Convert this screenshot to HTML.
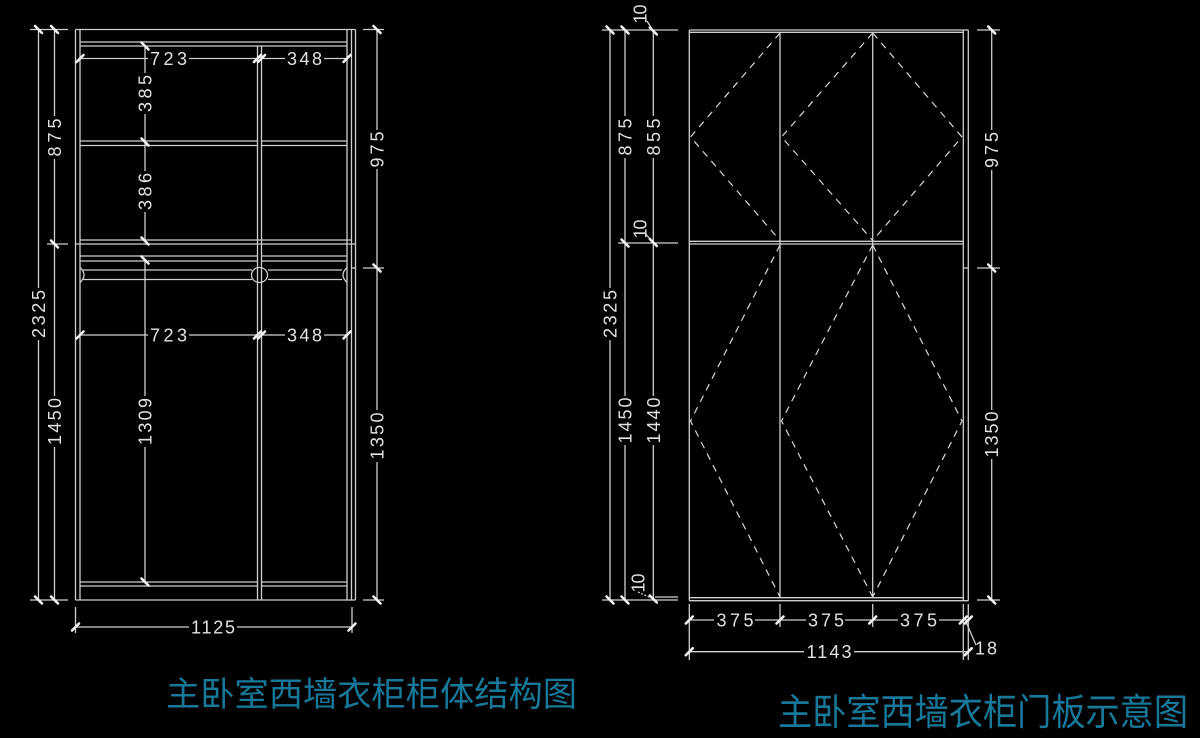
<!DOCTYPE html>
<html><head><meta charset="utf-8"><style>
html,body{margin:0;padding:0;background:#000;}
svg{display:block;}
.n{font-family:"Liberation Sans",sans-serif;font-size:18px;fill:#e2e2e2;}
.t{font-family:"Liberation Sans","Noto Sans CJK SC",sans-serif;fill:#17789a;}
</style></head><body>
<svg width="1200" height="738" viewBox="0 0 1200 738" xmlns="http://www.w3.org/2000/svg">
<rect width="1200" height="738" fill="#000"/>
<defs>
<path id="th" d="M-3.5,3.5 L3.5,-3.5" stroke="#f0f0f0" stroke-width="2.6" stroke-linecap="round"/>
<path id="tv" d="M-3.5,-3.5 L3.5,3.5" stroke="#f0f0f0" stroke-width="2.6" stroke-linecap="round"/>
</defs>

<!-- ================= LEFT CABINET ================= -->
<g stroke="#cfcfcf" stroke-width="1.3" fill="none">
<line x1="75.5" y1="29.5" x2="75.5" y2="600"/>
<line x1="80" y1="29.5" x2="80" y2="600"/>
<line x1="347" y1="29.5" x2="347" y2="600"/>
<line x1="351.5" y1="29.5" x2="351.5" y2="600"/>
<line x1="355.5" y1="29.5" x2="355.5" y2="600"/>
<line x1="75.5" y1="29.5" x2="355.5" y2="29.5"/>
<line x1="75.5" y1="600" x2="355.5" y2="600"/>
<line x1="80" y1="42" x2="347" y2="42"/>
<line x1="80" y1="46" x2="347" y2="46"/>
<line x1="257.5" y1="46" x2="257.5" y2="600"/>
<line x1="261.5" y1="46" x2="261.5" y2="600"/>
<!-- shelf -->
<line x1="80" y1="141" x2="257.5" y2="141"/>
<line x1="80" y1="145.5" x2="257.5" y2="145.5"/>
<line x1="261.5" y1="141" x2="347" y2="141"/>
<line x1="261.5" y1="145.5" x2="347" y2="145.5"/>
<!-- middle rail -->
<line x1="80" y1="240" x2="351.5" y2="240"/>
<line x1="75.5" y1="244" x2="355.5" y2="244"/>
<line x1="80" y1="256" x2="257.5" y2="256"/>
<line x1="80" y1="261" x2="257.5" y2="261"/>
<line x1="261.5" y1="256" x2="347" y2="256"/>
<line x1="261.5" y1="261" x2="347" y2="261"/>
<!-- rod -->
<line x1="83" y1="270" x2="252" y2="270"/>
<line x1="83" y1="279.5" x2="252" y2="279.5"/>
<line x1="268" y1="270" x2="342" y2="270"/>
<line x1="268" y1="279.5" x2="342" y2="279.5"/>
<path d="M80,267.5 Q88,275 80,282.5"/>
<path d="M347,267.5 Q339,275 347,282.5"/>
<ellipse cx="259.5" cy="275" rx="8" ry="7.5"/>
<line x1="351.5" y1="268" x2="356" y2="268"/>
<!-- bottom shelf -->
<line x1="80" y1="582" x2="257.5" y2="582"/>
<line x1="80" y1="586" x2="257.5" y2="586"/>
<line x1="261.5" y1="582" x2="347" y2="582"/>
<line x1="261.5" y1="586" x2="347" y2="586"/>

<!-- dims left -->
<line x1="30" y1="29.5" x2="68" y2="29.5"/>
<line x1="30" y1="600" x2="68" y2="600"/>
<line x1="47" y1="244" x2="68" y2="244"/>
<line x1="38.5" y1="29.5" x2="38.5" y2="288"/>
<line x1="38.5" y1="340" x2="38.5" y2="600"/>
<line x1="54.5" y1="29.5" x2="54.5" y2="116"/>
<line x1="54.5" y1="159" x2="54.5" y2="396"/>
<line x1="54.5" y1="447" x2="54.5" y2="600"/>
<!-- inner vertical dim -->
<line x1="145" y1="46" x2="145" y2="73"/>
<line x1="145" y1="114" x2="145" y2="171"/>
<line x1="145" y1="212" x2="145" y2="241"/>
<line x1="145" y1="261" x2="145" y2="396"/>
<line x1="145" y1="447" x2="145" y2="582"/>
<!-- right dim -->
<line x1="363" y1="29.5" x2="384" y2="29.5"/>
<line x1="363" y1="268" x2="384" y2="268"/>
<line x1="363" y1="600" x2="384" y2="600"/>
<line x1="377" y1="29.5" x2="377" y2="130"/>
<line x1="377" y1="169" x2="377" y2="410"/>
<line x1="377" y1="462" x2="377" y2="600"/>
<!-- horizontal dims -->
<line x1="80" y1="58.5" x2="148" y2="58.5"/>
<line x1="189" y1="58.5" x2="257.5" y2="58.5"/>
<line x1="261.5" y1="58.5" x2="285" y2="58.5"/>
<line x1="324" y1="58.5" x2="347" y2="58.5"/>
<line x1="80" y1="335" x2="148" y2="335"/>
<line x1="189" y1="335" x2="257.5" y2="335"/>
<line x1="261.5" y1="335" x2="285" y2="335"/>
<line x1="324" y1="335" x2="347" y2="335"/>
<!-- 1125 -->
<line x1="75.5" y1="607" x2="75.5" y2="633"/>
<line x1="352" y1="607" x2="352" y2="633"/>
<line x1="75.5" y1="627" x2="189" y2="627"/>
<line x1="237" y1="627" x2="352" y2="627"/>
</g>

<!-- ticks left -->
<use href="#tv" x="38.5" y="29.5"/><use href="#tv" x="38.5" y="600"/>
<use href="#tv" x="54.5" y="29.5"/><use href="#tv" x="54.5" y="244"/><use href="#tv" x="54.5" y="600"/>
<use href="#tv" x="145" y="46"/><use href="#tv" x="145" y="142"/><use href="#tv" x="145" y="241"/><use href="#tv" x="145" y="260"/><use href="#tv" x="145" y="582"/>
<use href="#tv" x="377" y="29.5"/><use href="#tv" x="377" y="268"/><use href="#tv" x="377" y="600"/>
<use href="#th" x="80" y="58.5"/><use href="#th" x="257.5" y="58.5"/><use href="#th" x="261.5" y="58.5"/><use href="#th" x="347" y="58.5"/>
<use href="#th" x="80" y="335"/><use href="#th" x="257.5" y="335"/><use href="#th" x="261.5" y="335"/><use href="#th" x="347" y="335"/>
<use href="#th" x="75.5" y="627"/><use href="#th" x="352" y="627"/>

<!-- texts left -->
<g class="n">
<text transform="translate(38.5,314) rotate(-90)" x="0" y="6.5" text-anchor="middle" textLength="48" lengthAdjust="spacing">2325</text>
<text transform="translate(54.5,137.5) rotate(-90)" x="0" y="6.5" text-anchor="middle" textLength="38" lengthAdjust="spacing">875</text>
<text transform="translate(54.5,421.5) rotate(-90)" x="0" y="6.5" text-anchor="middle" textLength="47" lengthAdjust="spacing">1450</text>
<text transform="translate(145,93.5) rotate(-90)" x="0" y="6.5" text-anchor="middle" textLength="37" lengthAdjust="spacing">385</text>
<text transform="translate(145,191.5) rotate(-90)" x="0" y="6.5" text-anchor="middle" textLength="37" lengthAdjust="spacing">386</text>
<text transform="translate(145,421.5) rotate(-90)" x="0" y="6.5" text-anchor="middle" textLength="47" lengthAdjust="spacing">1309</text>
<text transform="translate(377,149.5) rotate(-90)" x="0" y="6.5" text-anchor="middle" textLength="36" lengthAdjust="spacing">975</text>
<text transform="translate(377,436) rotate(-90)" x="0" y="6.5" text-anchor="middle" textLength="47" lengthAdjust="spacing">1350</text>
<text x="168.5" y="65" text-anchor="middle" textLength="37" lengthAdjust="spacing">723</text>
<text x="304.5" y="65" text-anchor="middle" textLength="35" lengthAdjust="spacing">348</text>
<text x="168.5" y="341.5" text-anchor="middle" textLength="37" lengthAdjust="spacing">723</text>
<text x="304.5" y="341.5" text-anchor="middle" textLength="35" lengthAdjust="spacing">348</text>
<text x="213" y="633.5" text-anchor="middle" textLength="44" lengthAdjust="spacing">1125</text>
</g>

<!-- ================= RIGHT DOORS ================= -->
<g stroke="#cfcfcf" stroke-width="1.3" fill="none">
<line x1="689.3" y1="30" x2="689.3" y2="600.7"/>
<line x1="780" y1="32.3" x2="780" y2="597.7"/>
<line x1="872.7" y1="32.3" x2="872.7" y2="597.7"/>
<line x1="963.3" y1="30" x2="963.3" y2="600.7"/>
<line x1="968.3" y1="30" x2="968.3" y2="600.7"/>
<line x1="689.3" y1="30" x2="968.3" y2="30"/>
<line x1="689.3" y1="32.3" x2="963.3" y2="32.3"/>
<line x1="689.3" y1="241.3" x2="963.3" y2="241.3"/>
<line x1="689.3" y1="244" x2="963.3" y2="244"/>
<line x1="689.3" y1="597.7" x2="963.3" y2="597.7"/>
<line x1="689.3" y1="600.7" x2="968.3" y2="600.7"/>
<line x1="963.3" y1="268" x2="968.3" y2="268"/>

<!-- left dims -->
<line x1="602" y1="30" x2="678" y2="30"/>
<line x1="618" y1="243" x2="678" y2="243"/>
<line x1="602" y1="600" x2="678" y2="600"/>
<line x1="655" y1="597" x2="678" y2="597"/>
<line x1="610" y1="30" x2="610" y2="288"/>
<line x1="610" y1="340" x2="610" y2="600"/>
<line x1="625" y1="30" x2="625" y2="116"/>
<line x1="625" y1="158" x2="625" y2="396"/>
<line x1="625" y1="445" x2="625" y2="600"/>
<line x1="653.3" y1="30" x2="653.3" y2="116"/>
<line x1="653.3" y1="158" x2="653.3" y2="396"/>
<line x1="653.3" y1="445" x2="653.3" y2="600"/>
<!-- 10 leaders -->
<line x1="647" y1="21" x2="653.3" y2="31"/>
<line x1="645" y1="233" x2="653.3" y2="243"/>
<line x1="638" y1="592" x2="653.3" y2="599" stroke-dasharray="2 1.5"/>

<!-- right dim -->
<line x1="977" y1="30" x2="1000" y2="30"/>
<line x1="977" y1="268" x2="1000" y2="268"/>
<line x1="977" y1="600" x2="1000" y2="600"/>
<line x1="991.7" y1="30" x2="991.7" y2="130"/>
<line x1="991.7" y1="170" x2="991.7" y2="410"/>
<line x1="991.7" y1="459" x2="991.7" y2="600"/>

<!-- bottom dims -->
<line x1="689.3" y1="604" x2="689.3" y2="660"/>
<line x1="780" y1="604" x2="780" y2="627"/>
<line x1="872.7" y1="604" x2="872.7" y2="627"/>
<line x1="963.3" y1="604" x2="963.3" y2="660"/>
<line x1="968.3" y1="604" x2="968.3" y2="660"/>
<line x1="689.3" y1="620" x2="714" y2="620"/>
<line x1="755" y1="620" x2="806" y2="620"/>
<line x1="845" y1="620" x2="898" y2="620"/>
<line x1="939" y1="620" x2="968.3" y2="620"/>
<line x1="689.3" y1="651.7" x2="804" y2="651.7"/>
<line x1="854" y1="651.7" x2="968.3" y2="651.7"/>
<line x1="966" y1="622" x2="976" y2="645"/>
</g>

<!-- dashed opening marks -->
<g stroke="#d8d8d8" stroke-width="1.2" fill="none" stroke-dasharray="7 6">
<path d="M780,33 L690.5,137 L780,240.5"/>
<path d="M872.7,33 L781.5,137 L872.7,240.5"/>
<path d="M872.7,33 L962,137 L872.7,240.5"/>
<path d="M780,245 L690.5,421 L780,597"/>
<path d="M872.7,245 L781.5,421 L872.7,597"/>
<path d="M872.7,245 L962,421 L872.7,597"/>
</g>

<!-- ticks right -->
<use href="#tv" x="610" y="30"/><use href="#tv" x="610" y="600"/>
<use href="#tv" x="625" y="30"/><use href="#tv" x="625" y="243"/><use href="#tv" x="625" y="600"/>
<use href="#tv" x="653.3" y="31"/><use href="#tv" x="653.3" y="242.5"/><use href="#tv" x="653.3" y="599"/>
<use href="#tv" x="991.7" y="30"/><use href="#tv" x="991.7" y="268"/><use href="#tv" x="991.7" y="600"/>
<use href="#th" x="689.3" y="620"/><use href="#th" x="780" y="620"/><use href="#th" x="872.7" y="620"/><use href="#th" x="963.3" y="620"/><use href="#th" x="968.3" y="620"/>
<use href="#th" x="689.3" y="651.7"/><use href="#th" x="968.3" y="651.7"/>

<!-- texts right -->
<g class="n">
<text transform="translate(610,314) rotate(-90)" x="0" y="6.5" text-anchor="middle" textLength="48" lengthAdjust="spacing">2325</text>
<text transform="translate(625,137) rotate(-90)" x="0" y="6.5" text-anchor="middle" textLength="37" lengthAdjust="spacing">875</text>
<text transform="translate(625,420.5) rotate(-90)" x="0" y="6.5" text-anchor="middle" textLength="46" lengthAdjust="spacing">1450</text>
<text transform="translate(653.3,137) rotate(-90)" x="0" y="6.5" text-anchor="middle" textLength="37" lengthAdjust="spacing">855</text>
<text transform="translate(653.3,420.5) rotate(-90)" x="0" y="6.5" text-anchor="middle" textLength="46" lengthAdjust="spacing">1440</text>
<text transform="translate(991.7,150) rotate(-90)" x="0" y="6.5" text-anchor="middle" textLength="36" lengthAdjust="spacing">975</text>
<text transform="translate(991.7,434.5) rotate(-90)" x="0" y="6.5" text-anchor="middle" textLength="46" lengthAdjust="spacing">1350</text>
<text transform="translate(640,14) rotate(-90)" x="0" y="6.5" text-anchor="middle" textLength="19" lengthAdjust="spacing">10</text>
<text transform="translate(640,229) rotate(-90)" x="0" y="6.5" text-anchor="middle" textLength="19" lengthAdjust="spacing">10</text>
<text transform="translate(638,583) rotate(-90)" x="0" y="6.5" text-anchor="middle" textLength="19" lengthAdjust="spacing">10</text>
<text x="735" y="626.5" text-anchor="middle" textLength="37" lengthAdjust="spacing">375</text>
<text x="826" y="626.5" text-anchor="middle" textLength="36" lengthAdjust="spacing">375</text>
<text x="918.5" y="626.5" text-anchor="middle" textLength="37" lengthAdjust="spacing">375</text>
<text x="829" y="658.2" text-anchor="middle" textLength="45" lengthAdjust="spacing">1143</text>
<text x="986" y="654.5" text-anchor="middle" textLength="22" lengthAdjust="spacing">18</text>
</g>

<!-- titles -->
<text class="t" x="166" y="706" font-size="34" textLength="411" lengthAdjust="spacingAndGlyphs">主卧室西墙衣柜柜体结构图</text>
<text class="t" x="778" y="725" font-size="37" textLength="410" lengthAdjust="spacingAndGlyphs">主卧室西墙衣柜门板示意图</text>
</svg>
</body></html>
